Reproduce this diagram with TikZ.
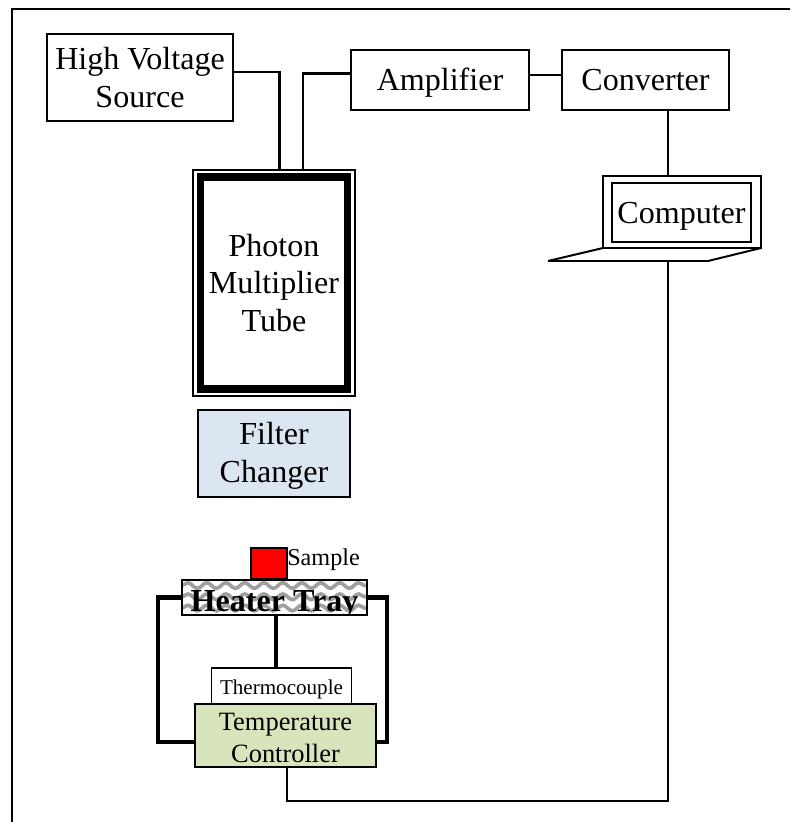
\documentclass[tikz,border=0pt]{standalone}
\usepackage{fontspec}
\setmainfont{Liberation Serif}
\usetikzlibrary{decorations.pathmorphing}
\definecolor{filterblue}{RGB}{220,230,241}
\definecolor{controlgreen}{RGB}{216,228,188}
\newcommand{\topgap}[1]{\rule{0pt}{#1}}
\tikzset{
  wire/.style={line width=1.7pt},
  thickwire/.style={line width=3pt},
  unit/.style={draw,line width=1.2pt,align=center,inner sep=0pt,outer sep=0pt,
    font=\fontsize{22.8}{27}\selectfont},
  oneline/.style={text height=15pt,text depth=0pt},
  wavy/.style={line width=2.6pt,gray!75,decorate,decoration={snake,segment length=13.5pt,amplitude=2pt}},
}
\begin{document}
\begin{tikzpicture}[x=0.025cm,y=-0.025cm]
\useasboundingbox (0,0) rectangle (790,822);
\path[clip] (0,0) rectangle (790,822);
\draw[line width=1.8pt] (12,9) rectangle (810,840);
% top row
\node[unit,minimum width=4.65cm,minimum height=2.175cm] (hv) at (140,77.5) {High Voltage\\Source};
\node[unit,oneline,minimum width=4.45cm,minimum height=1.5cm] (amp) at (440,80) {Amplifier};
\node[unit,oneline,minimum width=4.175cm,minimum height=1.5cm] (conv) at (645.5,80) {Converter};
% computer
\node[unit,minimum width=3.95cm,minimum height=1.8cm] (laptop) at (682,212) {};
\node[unit,oneline,minimum width=3.475cm,minimum height=1.475cm] (comp) at (681.5,212.5) {Computer};
\draw[line width=1.4pt,line join=bevel] (laptop.south west) -- (548,261) -- (708,261) -- (laptop.south east);
\coordinate (compout) at (668,261);
% tube
\node[unit,minimum width=4.05cm,minimum height=5.65cm] (tube) at (274,283) {};
\node[unit,line width=5.6pt,minimum width=3.675cm,minimum height=5.3cm] (pmt) at (274,283) {Photon\\Multiplier\\Tube};
\node[unit,fill=filterblue,minimum width=3.8cm,minimum height=2.175cm] (filter) at (274,453.5) {\topgap{19pt}Filter\\Changer};
% sample stage
\node[unit,fill=red,minimum width=0.9cm,minimum height=0.775cm] (sample) at (269,563.5) {};
\node[anchor=west,inner sep=0pt,font=\fontsize{17.2}{20}\selectfont] (samplelabel) at ([yshift=3pt]sample.east) {Sample};
\node[unit,fill=white,line width=1pt,minimum width=4.625cm,minimum height=0.875cm,
  path picture={
    \foreach \h in {8.5,0.5,-7.5}
      \draw[wavy] ([yshift=\h pt]path picture bounding box.west) -- ([yshift=\h pt]path picture bounding box.east);
    \node[font=\fontsize{22.8}{27}\selectfont\bfseries,text height=15pt,text depth=0pt,inner sep=0pt] (heatertext) at ([yshift=-2.5pt]path picture bounding box.center) {Heater Tray};
  }] (heater) at (274.5,597.5) {};
\node[unit,oneline,text height=11.5pt,font=\fontsize{15}{18}\selectfont,minimum width=3.5cm,minimum height=0.9cm] (couple) at (281.5,686) {Thermocouple};
\node[unit,fill=controlgreen,font=\fontsize{18.8}{22.6}\selectfont,minimum width=4.525cm,minimum height=1.575cm] (ctrl) at (285.5,735.5) {\topgap{16pt}Temperature\\Controller};
% wires
\draw[wire] ([yshift=3.9pt]hv.east) -| ([xshift=3.9pt]tube.north);
\draw[wire] ([yshift=4.6pt]amp.west) -| ([xshift=20.6pt]tube.north);
\draw[wire] ([yshift=3.5pt]amp.east) -- ([yshift=3.5pt]conv.west);
\draw[wire] ([xshift=16pt]conv.south) -- ([xshift=16pt]conv.south |- laptop.north);
\draw[wire] ([xshift=1pt]ctrl.south) -- ++(0,34) -| (compout);
\draw[thickwire] (heater.west) -- ++(-24,0) |- ([yshift=-4.6pt]ctrl.west);
\draw[thickwire] (heater.east) -- ++(20,0) |- ([yshift=-4.6pt]ctrl.east);
\draw[thickwire] ([xshift=1pt]heater.south) -- ([xshift=1pt]heater.south |- couple.north);
\end{tikzpicture}
\end{document}
